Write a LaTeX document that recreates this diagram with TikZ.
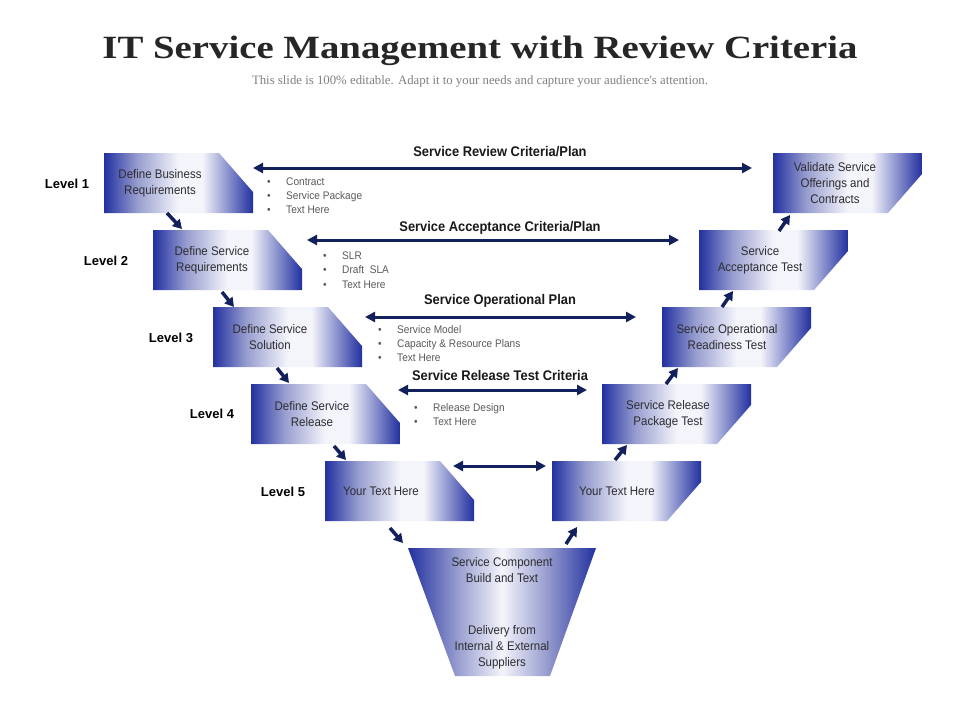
\documentclass[tikz,border=0pt]{standalone}
\usepackage{fontspec}
\setmainfont{Liberation Sans}
\newfontfamily\titlefont{Liberation Serif}
\newfontfamily\nsans[FakeStretch=0.92]{Liberation Sans}
\usetikzlibrary{arrows.meta}
\definecolor{bdark}{RGB}{34,48,160}
\definecolor{bmid}{RGB}{150,156,206}
\definecolor{bwhite}{RGB}{244,245,251}
\definecolor{navy}{RGB}{18,32,92}
\definecolor{bultxt}{RGB}{90,90,90}
\definecolor{boxtxt}{RGB}{45,45,50}
\definecolor{subgray}{RGB}{128,128,128}
\definecolor{titlecol}{RGB}{38,38,38}
\pgfdeclarehorizontalshading{boxshade}{100bp}{color(0bp)=(bdark); color(25bp)=(bdark); color(36bp)=(bmid); color(50bp)=(bwhite); color(58bp)=(bwhite); color(75bp)=(bdark); color(100bp)=(bdark)}
\pgfdeclarehorizontalshading{funshade}{100bp}{color(0bp)=(bdark); color(25bp)=(bdark); color(38bp)=(bmid); color(50bp)=(bwhite); color(62bp)=(bmid); color(75bp)=(bdark); color(100bp)=(bdark)}
\begin{document}
\begin{tikzpicture}[x=1pt,y=-1pt,
  lbox/.pic={\shade[shading=boxshade] (0,0) -- (115,0) -- (149,39) -- (149,60) -- (0,60) -- cycle;},
  rbox/.pic={\shade[shading=boxshade] (0,0) -- (149,0) -- (149,21) -- (115,60) -- (0,60) -- cycle;},
  btxt/.style={font=\nsans\fontsize{12.5}{16}\selectfont, text=boxtxt, align=center, inner sep=0pt},
  lvl/.style={font=\bfseries\fontsize{13}{15}\selectfont, text=black, inner sep=0pt},
  hdr/.style={font=\nsans\bfseries\fontsize{14}{16}\selectfont, text=black!90, inner sep=0pt},
  bul/.style={font=\nsans\fontsize{11}{13}\selectfont, text=bultxt, anchor=base west, inner sep=0pt},
  harrow/.style={navy, line width=3pt, {Triangle[length=10pt,width=10pt]}-{Triangle[length=10pt,width=10pt]}},
  darrow/.style={navy, line width=3.5pt, -{Triangle[length=9pt,width=10pt]}},
]
\useasboundingbox (0,0) rectangle (960,720);
\fill[white] (0,0) rectangle (960,720);

% title
\node[anchor=base, inner sep=0pt, text=titlecol] (title) at (480,58)
  {\resizebox{755pt}{22.5pt}{\titlefont\bfseries\fontsize{33}{36}\selectfont IT Service Management with Review Criteria}};
\node[anchor=base, inner sep=0pt, text=subgray] (subtitle) at (480,84)
  {\resizebox{456pt}{!}{\titlefont\fontsize{11}{13}\selectfont This slide is 100\% editable. Adapt it to your needs and capture your audience's attention.}};

% left boxes
\pic (L1) at (104,153) {lbox};
\pic (L2) at (153,230) {lbox};
\pic (L3) at (213,307) {lbox};
\pic (L4) at (251,384) {lbox};
\pic (L5) at (325,461) {lbox};
% right boxes
\pic (R1) at (773,153) {rbox};
\pic (R2) at (699,230) {rbox};
\pic (R3) at (662,307) {rbox};
\pic (R4) at (602,384) {rbox};
\pic (R5) at (552,461) {rbox};
% funnel
\shade[shading=funshade] (408,548) -- (596,548) -- (550,676) -- (455,676) -- cycle;

% box texts
\node[btxt] (tL1) at (160,183) {Define Business\\Requirements};
\node[btxt] (tL2) at (212,260) {Define Service\\Requirements};
\node[btxt] (tL3) at (270,337) {Define Service\\Solution};
\node[btxt] (tL4) at (312,414) {Define Service\\Release};
\node[btxt] (tL5) at (381,491) {Your Text Here};
\node[btxt] (tR1) at (835,183) {Validate Service\\Offerings and\\Contracts};
\node[btxt] (tR2) at (760,260) {Service\\Acceptance Test};
\node[btxt] (tR3) at (727,337) {Service Operational\\Readiness Test};
\node[btxt] (tR4) at (668,414) {Service Release\\Package Test};
\node[btxt] (tR5) at (617,491) {Your Text Here};
\node[btxt] (tF1) at (502,570) {Service Component\\Build and Text};
\node[btxt] (tF2) at (502,647) {Delivery from\\Internal \& External\\Suppliers};

% level labels
\node[lvl] (lv1) at (67,184) {Level 1};
\node[lvl] (lv2) at (106,261) {Level 2};
\node[lvl] (lv3) at (171,338) {Level 3};
\node[lvl] (lv4) at (212,414) {Level 4};
\node[lvl] (lv5) at (283,492) {Level 5};

% header labels
\node[hdr] (h1) at (500,152) {Service Review Criteria/Plan};
\node[hdr] (h2) at (500,228) {Service Acceptance Criteria/Plan};
\node[hdr] (h3) at (500,301) {Service Operational Plan};
\node[hdr] (h4) at (500,375) {Service Release Test Criteria};

% horizontal arrows
\coordinate (h1a) at (253,168); \coordinate (h1b) at (752,168);
\coordinate (h2a) at (307,240); \coordinate (h2b) at (679,240);
\coordinate (h3a) at (365,317); \coordinate (h3b) at (636,317);
\coordinate (h4a) at (398,390); \coordinate (h4b) at (587,390);
\coordinate (h5a) at (453,466); \coordinate (h5b) at (546,466);
\draw[harrow] (h1a) -- (h1b);
\draw[harrow] (h2a) -- (h2b);
\draw[harrow] (h3a) -- (h3b);
\draw[harrow] (h4a) -- (h4b);
\draw[harrow] (h5a) -- (h5b);

% bullets
\node[bul] (b11) at (267,185) {\makebox[19pt][l]{•}Contract};
\node[bul] (b12) at (267,199) {\makebox[19pt][l]{•}Service Package};
\node[bul] (b13) at (267,213) {\makebox[19pt][l]{•}Text Here};
\node[bul] (b21) at (323,259) {\makebox[19pt][l]{•}SLR};
\node[bul] (b22) at (323,273) {\makebox[19pt][l]{•}Draft\ \ SLA};
\node[bul] (b23) at (323,288) {\makebox[19pt][l]{•}Text Here};
\node[bul] (b31) at (378,333) {\makebox[19pt][l]{•}Service Model};
\node[bul] (b32) at (378,347) {\makebox[19pt][l]{•}Capacity \& Resource Plans};
\node[bul] (b33) at (378,361) {\makebox[19pt][l]{•}Text Here};
\node[bul] (b41) at (414,411) {\makebox[19pt][l]{•}Release Design};
\node[bul] (b42) at (414,425) {\makebox[19pt][l]{•}Text Here};

% diagonal arrows
\coordinate (d1a) at (167,213); \coordinate (d1b) at (182,229);
\coordinate (d2a) at (222,292); \coordinate (d2b) at (234,307);
\coordinate (d3a) at (277,368); \coordinate (d3b) at (289,383);
\coordinate (d4a) at (334,446); \coordinate (d4b) at (346,460);
\coordinate (d5a) at (390,528); \coordinate (d5b) at (403,543);
\coordinate (u1a) at (566,544); \coordinate (u1b) at (577,527);
\coordinate (u2a) at (615,460); \coordinate (u2b) at (627,445);
\coordinate (u3a) at (666,384); \coordinate (u3b) at (678,368);
\coordinate (u4a) at (722,307); \coordinate (u4b) at (733,291);
\coordinate (u5a) at (779,231); \coordinate (u5b) at (790,215);
\foreach \s/\e in {d1a/d1b,d2a/d2b,d3a/d3b,d4a/d4b,d5a/d5b,u1a/u1b,u2a/u2b,u3a/u3b,u4a/u4b,u5a/u5b}
  \draw[darrow] (\s) -- (\e);
\end{tikzpicture}
\end{document}
